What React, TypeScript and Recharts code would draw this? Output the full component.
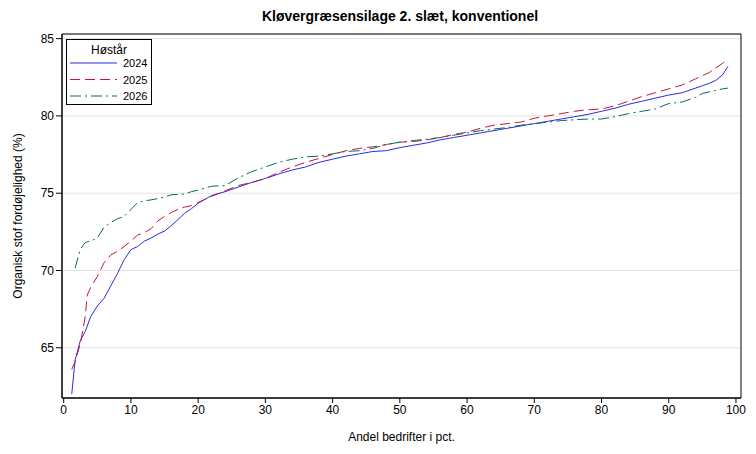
import React from 'react';
import {
  LineChart,
  Line,
  XAxis,
  YAxis,
  CartesianGrid,
  ReferenceArea,
} from 'recharts';

// percentiles of farms (x) and the digestibility for each harvest year
const pct = [
  1.2, 1.7, 2.5, 3.2, 3.5, 4, 5, 6, 7, 8, 9, 10, 11, 12, 13, 14, 15, 16, 17, 18, 19, 20,
  22, 24, 26, 28, 30, 32, 34, 36, 38, 40, 42, 44, 46, 48, 50, 52, 54, 56, 58, 60,
  62, 64, 66, 68, 70, 72, 74, 76, 78, 80, 82, 84, 86, 88, 90, 92, 94, 95, 96, 97, 98, 98.8,
];

const y2024 = [
  62.0, 64.2, 65.5, 66.05, 66.4, 67.0, 67.7, 68.2, 69.0, 69.8, 70.7, 71.35, 71.55, 71.9, 72.1, 72.35,
  72.55, 72.9, 73.3, 73.7, 74.0, 74.35, 74.85, 75.1, 75.4, 75.7, 75.95, 76.25, 76.5, 76.7, 77.0,
  77.2, 77.4, 77.55, 77.7, 77.75, 77.95, 78.1, 78.25, 78.45, 78.6, 78.75, 78.9, 79.05, 79.2, 79.35,
  79.5, 79.65, 79.8, 79.95, 80.1, 80.3, 80.5, 80.75, 80.95, 81.15, 81.35, 81.5, 81.8, 81.95, 82.1,
  82.3, 82.65, 83.2,
];

const y2025 = [
  63.6, 64.1, 65.3, 67.0, 68.4, 68.9, 69.6, 70.5, 71.0, 71.25, 71.55, 71.9, 72.3, 72.45, 72.7, 73.2,
  73.5, 73.75, 73.95, 74.1, 74.2, 74.4, 74.8, 75.15, 75.5, 75.7, 75.95, 76.35, 76.7, 77.0, 77.25,
  77.5, 77.75, 77.9, 78.0, 78.15, 78.3, 78.35, 78.45, 78.6, 78.8, 78.95, 79.2, 79.4, 79.5, 79.6,
  79.85, 80.0, 80.15, 80.3, 80.4, 80.45, 80.65, 80.95, 81.25, 81.5, 81.75, 82.0, 82.4, 82.6, 82.8,
  83.1, 83.4, 83.65,
];

const y2026 = [
  null, 70.15, 71.4, 71.8, 71.85, 71.9, 72.1, 72.8, 73.1, 73.35, 73.5, 73.95, 74.4, 74.5, 74.57,
  74.65, 74.75, 74.9, 74.92, 74.95, 75.1, 75.2, 75.45, 75.5, 76.0, 76.4, 76.7, 77.0, 77.2, 77.35,
  77.4, 77.55, 77.7, 77.75, 77.9, 78.15, 78.3, 78.4, 78.5, 78.6, 78.75, 78.9, 79.05, 79.15, 79.25,
  79.4, 79.5, 79.6, 79.7, 79.75, 79.8, 79.8, 79.95, 80.15, 80.3, 80.45, 80.8, 80.9, 81.2, 81.45,
  81.55, 81.65, 81.75, 81.8,
];

const xTicks = [0, 10, 20, 30, 40, 50, 60, 70, 80, 90, 100];
const yTicks = [65, 70, 75, 80, 85];

const series = [
  { key: 'y2024', name: '2024', color: '#2b2be6', dash: undefined },
  { key: 'y2025', name: '2025', color: '#c4163a', dash: '10 5' },
  { key: 'y2026', name: '2026', color: '#056b5c', dash: '11 4 2 4' },
];

const data = pct.map((p, i) => ({
  pct: p,
  y2024: y2024[i],
  y2025: y2025[i],
  y2026: y2026[i],
}));

const FONT = '"Liberation Sans", Arial, sans-serif';
const X_DOMAIN = [-0.25, 100.75];
const Y_DOMAIN = [61.75, 85.3];

// legend drawn as an overlay so it doesn't steal space from the plot
const LegendBox = () => (
  <svg
    width={86}
    height={66}
    style={{ position: 'absolute', left: 66, top: 39, display: 'block' }}
  >
    <rect x={0.5} y={0.5} width={85} height={65} fill="#fff" stroke="#000" />
    <text x={43} y={15} textAnchor="middle" fontSize={12} fontFamily={FONT} fill="#000">
      Høstår
    </text>
    {series.map((s, i) => {
      const y = 24 + i * 16.5;
      return (
        <g key={s.key}>
          <line x1={4} x2={51} y1={y} y2={y} stroke={s.color} strokeDasharray={s.dash} />
          <text x={57} y={y + 4} fontSize={11} fontFamily={FONT} fill="#000">
            {s.name}
          </text>
        </g>
      );
    })}
  </svg>
);

export default function App() {
  return (
    <div style={{ position: 'absolute', left: 0, top: 0, width: 756, height: 454, background: '#fff' }}>
      <div
        style={{
          position: 'absolute',
          top: 8,
          left: 0,
          width: 800,
          textAlign: 'center',
          fontFamily: FONT,
          fontWeight: 'bold',
          fontSize: 14,
        }}
      >
        Kløvergræsensilage 2. slæt, konventionel
      </div>
      <LineChart
        width={756}
        height={454}
        data={data}
        margin={{ top: 34, right: 15, left: 0, bottom: 0 }}
        style={{ fontFamily: FONT }}
      >
        <CartesianGrid vertical={false} stroke="#e2e2e2" />
        <XAxis
          dataKey="pct"
          type="number"
          domain={X_DOMAIN}
          ticks={xTicks}
          allowDataOverflow
          height={56}
          stroke="#000"
          tickSize={5}
          tick={{ fill: '#000', fontSize: 12 }}
          label={{ value: 'Andel bedrifter i pct.', position: 'insideBottom', offset: 13, fill: '#000', fontSize: 12 }}
        />
        <YAxis
          type="number"
          domain={Y_DOMAIN}
          ticks={yTicks}
          allowDataOverflow
          width={62}
          stroke="#000"
          tickSize={6}
          tick={{ fill: '#000', fontSize: 12 }}
          label={{
            value: 'Organisk stof fordøjelighed (%)',
            angle: -90,
            position: 'insideLeft',
            offset: 18,
            fill: '#000',
            fontSize: 12,
            style: { textAnchor: 'middle' },
          }}
        />
        <ReferenceArea
          x1={X_DOMAIN[0]}
          x2={X_DOMAIN[1]}
          y1={Y_DOMAIN[0]}
          y2={Y_DOMAIN[1]}
          fill="none"
          stroke="#000"
          strokeOpacity={1}
          ifOverflow="visible"
        />
        {series.map((s) => (
          <Line
            key={s.key}
            dataKey={s.key}
            name={s.name}
            type="linear"
            stroke={s.color}
            strokeWidth={1}
            strokeDasharray={s.dash}
            dot={false}
            activeDot={false}
            isAnimationActive={false}
          />
        ))}
      </LineChart>
      <LegendBox />
    </div>
  );
}
